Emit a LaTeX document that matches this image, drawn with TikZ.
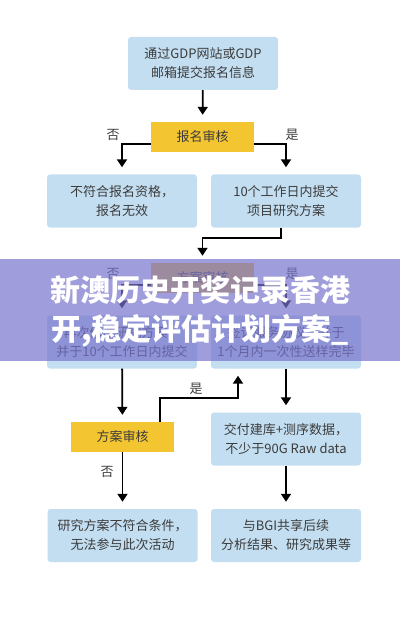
\documentclass[tikz,border=0pt]{standalone}
\usepackage{fontspec}
\setmainfont{Noto Sans CJK SC}
\usetikzlibrary{arrows.meta}
\definecolor{boxblue}{HTML}{C3DEF1}
\definecolor{boxyellow}{HTML}{F3C530}
\definecolor{txtgray}{HTML}{3C3C3C}
\definecolor{wmpurple}{HTML}{7873CD}
\begin{document}
\begin{tikzpicture}[x=1pt, y=-1pt, line cap=butt, line join=miter,
    infobox/.style={fill=boxblue, rounded corners=3pt, minimum width=150pt,
      minimum height=53pt, inner sep=0pt, align=center, text=txtgray,
      font=\fontsize{13}{19}\selectfont},
    checkbox/.style={fill=boxyellow, minimum width=103pt, minimum height=30pt,
      inner sep=0pt, text=txtgray, font=\fontsize{13}{16}\selectfont},
    lbl/.style={inner sep=0pt, text=txtgray, font=\fontsize{13}{16}\selectfont},
    flow/.style={line width=1.8pt, -{Triangle[width=10pt,length=8pt]}, shorten >=7pt}]
  \useasboundingbox (0,0) rectangle (400,620);
  % 报名阶段
  \node[infobox] (apply) at (203,63.5) {通过GDP网站或GDP\\邮箱提交报名信息};
  \node[checkbox] (chk1) at (202.5,137) {报名审核};
  \node[infobox] (invalid) at (122,201) {不符合报名资格，\\报名无效};
  \node[infobox] (submit) at (286,201) {10个工作日内提交\\项目研究方案};
  \node[lbl] (no1) at (113,135) {否};
  \node[lbl] (yes1) at (292,135) {是};
  \draw[flow] (apply) -- (chk1);
  \draw[flow] ([yshift=-7pt]chk1.west) -| (invalid.north);
  \draw[flow] ([yshift=-7pt]chk1.east) -| (submit.north);
  % 方案审核（第一次）
  \node[checkbox] (chk2) at (202.5,278) {方案审核};
  \node[infobox] (redo) at (122,342) {再次修改研究方案，\\并于10个工作日内提交};
  \node[infobox] (sign) at (286,342) {签订服务协议，并于\\1个月内一次性送样完毕};
  \node[lbl] (no2) at (113,274) {否};
  \node[lbl] (yes2) at (292,274) {是};
  \draw[flow] ([xshift=-5pt]submit.south) -- ++(0,10) -| (chk2.north);
  \draw[flow] ([yshift=-7pt]chk2.west) -| (redo.north);
  \draw[flow] ([yshift=-7pt]chk2.east) -| (sign.north);
  % 方案审核（第二次）与测序
  \node[checkbox] (chk3) at (122.5,437) {方案审核};
  \node[infobox] (data) at (286,439) {交付建库+测序数据，\\不少于90G Raw data};
  \node[lbl] (yes3) at (196,389) {是};
  \node[lbl] (no3) at (107,472) {否};
  \draw[flow] (redo) -- (chk3);
  \draw[flow] ([xshift=37.5pt]chk3.north) -- ++(0,-24) -| ([xshift=-48pt]sign.south);
  \draw[flow] (sign) -- (data);
  % 结果
  \node[infobox] (fail) at (122.5,535.5) {研究方案不符合条件，\\无法参与此次活动};
  \node[infobox] (share) at (286,535.5) {与BGI共享后续\\分析结果、研究成果等};
  \draw[flow] (chk3) -- (fail);
  \draw[flow] (data) -- (share);
  % 水印横幅
  \fill[wmpurple, opacity=0.7] (0,259) rectangle (400,361);
  \node[text=white, font=\fontsize{30}{39}\selectfont\bfseries, align=center,
    inner sep=0pt] (banner) at (200,311) {新澳历史开奖记录香港\\开,稳定评估计划方案\_};
\end{tikzpicture}
\end{document}
